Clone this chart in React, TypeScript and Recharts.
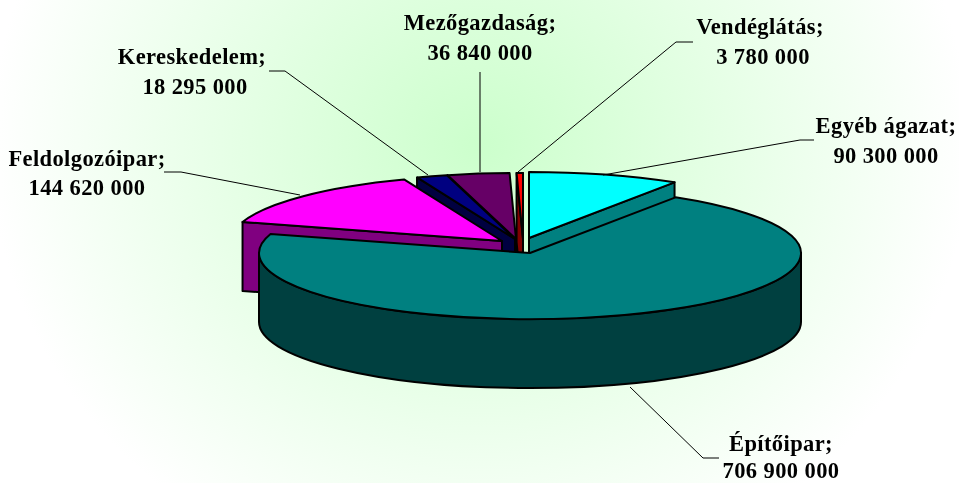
import { PieChart, Pie } from "recharts";

// values in Ft, ordered counter-clockwise so that the big slice is painted last
const categories = ["Egyéb ágazat", "Vendéglátás", "Mezőgazdaság", "Kereskedelem", "Feldolgozóipar", "Építőipar"];
const amounts = [90300000, 3780000, 36840000, 18295000, 144620000, 706900000];

const topColors = ["#00ffff", "#ff0000", "#660066", "#000080", "#ff00ff", "#008080"];
const wallColors = ["#008080", "#800000", "#330033", "#000040", "#800080", "#004040"];
const explode = [[-1, -15], [-7, -14], [-14, -14], [-15, -14], [-28, -12], [0, 0]];

const labelCenters = [[886, 133, 886, 163], [760, 34, 763, 64], [480, 30, 480, 60], [192, 64, 195, 94], [87, 166, 87, 195], [781, 451, 781, 478]];
const leaders = [
  "603,175 800,140 814,140",
  "518,172 676,42 693,42",
  "480,172 480,72",
  "428,175 285,71 269,71",
  "300,195 181,172 164,172",
  "630,387 703,458 719,458",
];

const total = amounts.reduce((a, b) => a + b, 0);
const firstAngle = 90 - (360 * amounts[0]) / total;
const chartData = categories.map((name, i) => ({ name, value: amounts[i] }));

const TILT = 66 / 271;
const DEPTH = 69;

const rad = (d: number) => (d * Math.PI) / 180;
const fmt = (v: number) => v.toString().replace(/\B(?=(\d{3})+(?!\d))/g, " ");

const Slice3D = (props: any) => {
  const { cx, cy, outerRadius: r, startAngle, endAngle, index } = props;
  const x0 = cx + explode[index][0];
  const y0 = cy + explode[index][1];
  const ry = r * TILT;
  const a1 = ((90 - endAngle) % 360 + 360) % 360; // clockwise from the top
  const a2 = a1 + (endAngle - startAngle);
  const px = (a: number) => x0 + r * Math.sin(rad(a));
  const py = (a: number) => y0 - ry * Math.cos(rad(a));
  const large = a2 - a1 > 180 ? 1 : 0;

  const quad = (a: number) =>
    `M${x0},${y0} L${px(a)},${py(a)} L${px(a)},${py(a) + DEPTH} L${x0},${y0 + DEPTH} Z`;

  // only the cut faces turned towards the viewer get drawn
  const showStart = Math.sin(rad(a1)) < 0;
  const showEnd = Math.sin(rad(a2)) > 0;
  const lo = Math.max(a1, 90);
  const hi = Math.min(a2, 270);
  const common = { stroke: "#000", strokeWidth: 2, strokeLinejoin: "round" as const };

  return (
    <g>
      {showStart && <path d={quad(a1)} fill={wallColors[index]} {...common} />}
      {showEnd && <path d={quad(a2)} fill={wallColors[index]} {...common} />}
      {lo < hi && (
        <path
          d={`M${px(lo)},${py(lo)} A${r},${ry} 0 0 1 ${px(hi)},${py(hi)} L${px(hi)},${py(hi) + DEPTH} A${r},${ry} 0 0 0 ${px(lo)},${py(lo) + DEPTH} Z`}
          fill={wallColors[index]}
          {...common}
        />
      )}
      <path
        d={`M${x0},${y0} L${px(a1)},${py(a1)} A${r},${ry} 0 ${large} 1 ${px(a2)},${py(a2)} Z`}
        fill={topColors[index]}
        {...common}
      />
    </g>
  );
};

const SliceLabel = (props: any) => {
  const { index } = props;
  const [x1, y1, x2, y2] = labelCenters[index];
  const textStyle = { fontFamily: "'Liberation Serif'", fontSize: 22.5, fontWeight: 700, letterSpacing: 0.4, fill: "#000" };
  return (
    <g>
      <polyline points={leaders[index]} fill="none" stroke="#000" strokeWidth={1} />
      <text x={x1} y={y1} textAnchor="middle" {...textStyle}>{categories[index]};</text>
      <text x={x2} y={y2} textAnchor="middle" {...textStyle}>{fmt(amounts[index])}</text>
    </g>
  );
};

export default function App() {
  return (
    <div
      style={{
        position: "fixed",
        left: 0,
        top: 0,
        width: 959,
        height: 483,
        background: "radial-gradient(490px 450px at 480px 146px, #ccffcc 0%, #ffffff 100%)",
      }}
    >
      <PieChart width={959} height={483} margin={{ top: 0, right: 0, bottom: 0, left: 0 }}>
        <Pie
          data={chartData}
          dataKey="value"
          nameKey="name"
          cx={530}
          cy={253}
          outerRadius={271}
          startAngle={firstAngle}
          endAngle={firstAngle + 360}
          shape={Slice3D}
          label={SliceLabel}
          labelLine={false}
          isAnimationActive={false}
        />
      </PieChart>
    </div>
  );
}
